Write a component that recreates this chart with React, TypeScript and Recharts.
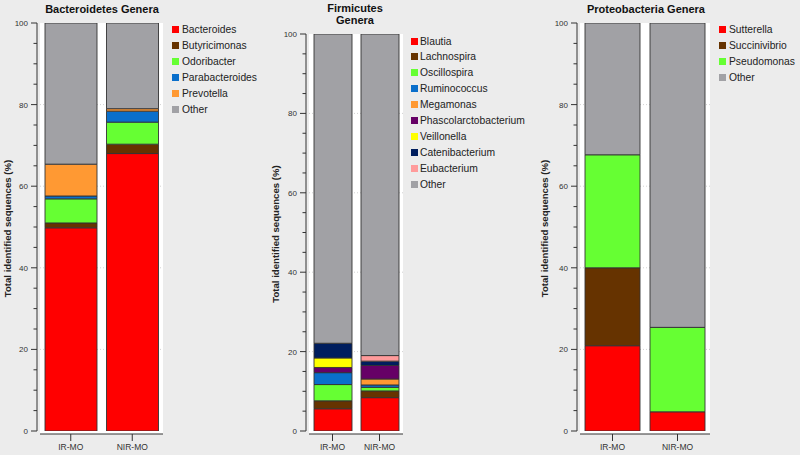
import React from 'react';
import { BarChart, Bar, XAxis, YAxis, CartesianGrid } from 'recharts';

const categories = ['IR-MO', 'NIR-MO'];

const bactGenera = ['Bacteroides', 'Butyricimonas', 'Odoribacter', 'Parabacteroides', 'Prevotella', 'Other'];
const bactColors = ['#ff0000', '#663300', '#66ff33', '#0a6fcb', '#ff9933', '#a1a1a5'];
const bactIR = [49.8, 1.2, 5.9, 0.7, 7.8, 34.6];
const bactNIR = [68.0, 2.3, 5.4, 2.7, 0.6, 21.0];

const firmGenera = ['Blautia', 'Lachnospira', 'Oscillospira', 'Ruminococcus', 'Megamonas', 'Phascolarctobacterium', 'Veillonella', 'Catenibacterium', 'Eubacterium', 'Other'];
const firmColors = ['#ff0000', '#663300', '#66ff33', '#0a6fcb', '#ff9933', '#660066', '#ffff00', '#001e5e', '#ff9b9b', '#a1a1a5'];
const firmIR = [5.6, 2.0, 4.1, 3.0, 0, 1.3, 2.4, 3.7, 0, 77.9];
const firmNIR = [8.4, 1.7, 0.9, 0.6, 1.5, 3.4, 0, 1.1, 1.4, 81.0];

const protGenera = ['Sutterella', 'Succinivibrio', 'Pseudomonas', 'Other'];
const protColors = ['#ff0000', '#663300', '#66ff33', '#a1a1a5'];
const protIR = [20.9, 19.1, 27.7, 32.3];
const protNIR = [4.7, 0, 20.7, 74.6];

const yTicks = [0, 5, 10, 15, 20, 25, 30, 35, 40, 45, 50, 55, 60, 65, 70, 75, 80, 85, 90, 95, 100];
const majorTicks = [0, 20, 40, 60, 80, 100];
const gridValues = [20, 40, 60, 80];
const yAxisTitle = 'Total identified sequences (%)';

const FONT = '"Liberation Sans", Arial, Helvetica, sans-serif';

function buildRows(genera: string[], ir: number[], nir: number[]) {
  return categories.map((c, i) => {
    const row: Record<string, any> = { name: c };
    const vals = i === 0 ? ir : nir;
    genera.forEach((g, j) => {
      row[g] = vals[j];
    });
    return row;
  });
}

function YTick(props: any) {
  const { x, y, payload, axisLen } = props;
  const v = payload.value;
  const ax = x - 3;
  const major = majorTicks.includes(v);
  return (
    <g>
      {v === 0 && <line x1={ax} x2={ax} y1={y} y2={y - axisLen} stroke="#333" strokeWidth={1} />}
      <line x1={ax - (major ? 6 : 3.5)} x2={ax} y1={y} y2={y} stroke="#333" strokeWidth={1} />
      {major && (
        <text x={ax - 9} y={y + 3} textAnchor="end" fontSize={8} fill="#333" fontFamily={FONT}>
          {v}
        </text>
      )}
    </g>
  );
}

type PanelProps = {
  left: number;
  width: number;
  top: number;
  right: number;
  yAxisWidth: number;
  genera: string[];
  colors: string[];
  ir: number[];
  nir: number[];
  barSize: number;
};

const CHART_H = 455;
const X_AXIS_H = 21;
const PAD_BOTTOM = 3;

function Panel({ left, width, top, right, yAxisWidth, genera, colors, ir, nir, barSize }: PanelProps) {
  const data = buildRows(genera, ir, nir);
  const axisLen = CHART_H - X_AXIS_H - PAD_BOTTOM - top;
  return (
    <div style={{ position: 'absolute', left, top: 0 }}>
      <BarChart width={width} height={CHART_H} data={data} margin={{ top, right, bottom: 0, left: 0 }}>
        <CartesianGrid
          fill="#ffffff"
          vertical={false}
          horizontalValues={gridValues}
          stroke="#d2d2d2"
          strokeDasharray="1 2"
        />
        <XAxis
          dataKey="name"
          height={X_AXIS_H}
          tickSize={7}
          tickMargin={3}
          interval={0}
          axisLine={{ stroke: '#333' }}
          tickLine={{ stroke: '#333' }}
          tick={{ fontSize: 8.5, fill: '#333', fontFamily: FONT }}
        />
        <YAxis
          type="number"
          domain={[0, 100]}
          ticks={yTicks}
          interval={0}
          width={yAxisWidth}
          padding={{ top: 0, bottom: PAD_BOTTOM }}
          axisLine={false}
          tickLine={false}
          tickSize={0}
          tickMargin={0}
          allowDataOverflow
          tick={(p: any) => <YTick {...p} axisLen={axisLen} />}
          label={{
            value: yAxisTitle,
            angle: -90,
            position: 'insideLeft',
            offset: 8,
            style: { textAnchor: 'middle', fontSize: 9.6, fontWeight: 'bold', fill: '#222', fontFamily: FONT },
          }}
        />
        {genera.map((g, j) => (
          <Bar
            key={g}
            dataKey={g}
            stackId="s"
            fill={colors[j]}
            stroke="#333"
            strokeWidth={0.9}
            barSize={barSize}
            isAnimationActive={false}
          />
        ))}
      </BarChart>
    </div>
  );
}

function LegendList({ x, y0, step, gap, genera, colors }: { x: number; y0: number; step: number; gap: number; genera: string[]; colors: string[] }) {
  return (
    <>
      {genera.map((g, j) => (
        <div
          key={g}
          style={{
            position: 'absolute',
            left: x,
            top: y0 + j * step - 6,
            height: 12,
            display: 'flex',
            alignItems: 'center',
            fontSize: 10.3,
            color: '#222',
            whiteSpace: 'nowrap',
            fontFamily: FONT,
          }}
        >
          <span style={{ width: 7, height: 7, background: colors[j], marginRight: gap, display: 'inline-block' }} />
          {g}
        </div>
      ))}
    </>
  );
}

function Title({ cx, top, lines }: { cx: number; top: number; lines: string[] }) {
  return (
    <div
      style={{
        position: 'absolute',
        left: cx - 100,
        width: 200,
        top,
        textAlign: 'center',
        fontSize: 11,
        lineHeight: '12px',
        fontWeight: 'bold',
        color: '#111',
        fontFamily: FONT,
      }}
    >
      {lines.map((l) => (
        <div key={l}>{l}</div>
      ))}
    </div>
  );
}

export default function App() {
  return (
    <div
      style={{
        position: 'absolute',
        left: 0,
        top: 0,
        width: 800,
        height: 455,
        background: '#ececec',
        overflow: 'hidden',
        fontFamily: FONT,
      }}
    >
      <Panel left={0} width={170} top={23} right={7} yAxisWidth={40} genera={bactGenera} colors={bactColors} ir={bactIR} nir={bactNIR} barSize={52} />
      <Panel left={268} width={140} top={34} right={5} yAxisWidth={41} genera={firmGenera} colors={firmColors} ir={firmIR} nir={firmNIR} barSize={38} />
      <Panel left={537} width={178} top={23} right={5} yAxisWidth={43} genera={protGenera} colors={protColors} ir={protIR} nir={protNIR} barSize={55} />

      <Title cx={102} top={3} lines={['Bacteroidetes Genera']} />
      <Title cx={355} top={1.5} lines={['Firmicutes', 'Genera']} />
      <Title cx={646} top={3} lines={['Proteobacteria Genera']} />

      <LegendList x={172} y0={29} step={16} gap={3} genera={bactGenera} colors={bactColors} />
      <LegendList x={411} y0={41} step={15.9} gap={2} genera={firmGenera} colors={firmColors} />
      <LegendList x={719} y0={29} step={16} gap={3} genera={protGenera} colors={protColors} />
    </div>
  );
}
